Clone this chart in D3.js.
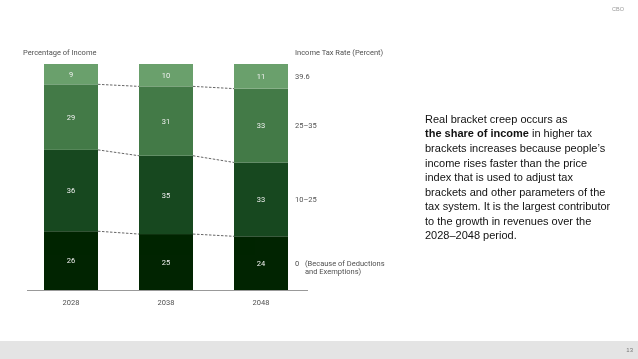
<!DOCTYPE html>
<html>
<head>
<meta charset="utf-8">
<script src="https://cdn.jsdelivr.net/npm/d3@7"></script>
<style>
  html, body { margin: 0; padding: 0; background: #fff; }
  svg { display: block; will-change: transform; opacity: 0.999; }
</style>
</head>
<body>
<svg id="chart" width="638" height="359"></svg>
<script>
// ---- data ----
const years = ["2028", "2038", "2048"];
const brackets = ["0", "10–25", "25–35", "39.6"]; // bottom to top
const share0 = [26, 25, 24];
const share10to25 = [36, 35, 33];
const share25to35 = [29, 31, 33];
const share396 = [9, 10, 11];
const bracketLabels = ["0 ", "10–25", "25–35", "39.6"];
const noteLines = ["Real bracket creep occurs as",
  "<b>the share of income</b> in higher tax",
  "brackets increases because people’s",
  "income rises faster than the price",
  "index that is used to adjust tax",
  "brackets and other parameters of the",
  "tax system. It is the largest contributor",
  "to the growth in revenues over the",
  "2028–2048 period."];

const colors = ["#002400", "#17481f", "#437a47", "#6aa06c"];

const table = years.map((y, i) => ({
  year: y,
  "0": share0[i], "10–25": share10to25[i], "25–35": share25to35[i], "39.6": share396[i]
}));

const svg = d3.select("#chart");
const chartFont = "Roboto, 'DejaVu Sans', sans-serif";
const fs = "7.5px";
const labelColor = "#505050";

const x = d3.scaleBand().domain(years).range([44, 288]).paddingInner(0.4316).paddingOuter(0);
const y = d3.scaleLinear().domain([0, 1]).range([290, 64]);

const stack = d3.stack().keys(brackets).offset(d3.stackOffsetExpand);
const series = stack(table);

// bars
const g = svg.append("g");
series.forEach((s, k) => {
  g.selectAll(null).data(s).enter().append("rect")
    .attr("x", d => x(d.data.year))
    .attr("width", x.bandwidth())
    .attr("y", d => y(d[1]))
    .attr("height", d => y(d[0]) - y(d[1]))
    .attr("fill", colors[k]);
  g.selectAll(null).data(s).enter().append("text")
    .attr("x", d => x(d.data.year) + x.bandwidth() / 2)
    .attr("y", d => (y(d[0]) + y(d[1])) / 2)
    .attr("dy", "0.35em")
    .attr("text-anchor", "middle")
    .attr("fill", "#f2f2f2")
    .style("font-family", chartFont)
    .style("font-size", fs)
    .text(d => d.data[s.key]);
});

// dashed connectors
series.slice(0, 3).forEach(s => {
  for (let i = 0; i < s.length - 1; i++) {
    svg.append("line")
      .attr("x1", x(s[i].data.year) + x.bandwidth())
      .attr("x2", x(s[i + 1].data.year))
      .attr("y1", y(s[i][1]))
      .attr("y2", y(s[i + 1][1]))
      .attr("stroke", "#666")
      .attr("stroke-width", 1)
      .attr("stroke-dasharray", "2.5,1.5");
  }
});

// x axis baseline & labels
svg.append("line").attr("x1", 27).attr("x2", 308).attr("y1", 290.5).attr("y2", 290.5)
  .attr("stroke", "#999").attr("stroke-width", 1);
svg.append("g").selectAll("text").data(years).enter().append("text")
  .attr("x", d => x(d) + x.bandwidth() / 2)
  .attr("y", 302)
  .attr("dy", "0.35em")
  .attr("text-anchor", "middle")
  .attr("fill", labelColor)
  .style("font-family", chartFont)
  .style("font-size", fs)
  .text(d => d);

// titles
svg.append("text").attr("x", 23).attr("y", 52).attr("dy", "0.35em")
  .attr("fill", labelColor).style("font-family", chartFont).style("font-size", fs)
  .text("Percentage of Income");
svg.append("text").attr("x", 295).attr("y", 52).attr("dy", "0.35em")
  .attr("fill", labelColor).style("font-family", chartFont).style("font-size", fs)
  .text("Income Tax Rate (Percent)");

// right bracket labels aligned to last bar
const last = years.length - 1;
series.forEach((s, k) => {
  const cy = (y(s[last][0]) + y(s[last][1])) / 2;
  svg.append("text").attr("x", 295).attr("y", cy).attr("dy", "0.35em")
    .attr("fill", labelColor).style("font-family", chartFont).style("font-size", fs)
    .text(bracketLabels[k]);
  if (k === 0) {
    svg.append("text").attr("x", 305).attr("y", cy).attr("dy", "0.35em")
      .attr("fill", labelColor).style("font-family", chartFont).style("font-size", fs)
      .text("(Because of Deductions");
    svg.append("text").attr("x", 305).attr("y", cy + 8.5).attr("dy", "0.35em")
      .attr("fill", labelColor).style("font-family", chartFont).style("font-size", fs)
      .text("and Exemptions)");
  }
});

// note text
const note = svg.append("text").attr("x", 425)
  .style("font-family", "'Liberation Sans', Arial, sans-serif")
  .style("font-size", "11px").attr("fill", "#111");
noteLines.forEach((line, i) => {
  const t = note.append("tspan").attr("x", 425).attr("y", 119 + i * 14.55).attr("dy", "0.35em");
  if (line.startsWith("<b>")) {
    const m = line.match(/<b>(.*)<\/b>(.*)/);
    t.append("tspan").style("font-weight", "bold").text(m[1]);
    t.append("tspan").text(m[2]);
  } else {
    t.text(line);
  }
});

// CBO mark
svg.append("text").attr("x", 624).attr("y", 9).attr("dy", "0.35em").attr("text-anchor", "end")
  .style("font-family", "'Liberation Sans', Arial, sans-serif").style("font-size", "5.5px")
  .attr("fill", "#999").text("CBO");

// footer band
svg.append("rect").attr("x", 0).attr("y", 341).attr("width", 638).attr("height", 18).attr("fill", "#e4e4e4");
svg.append("text").attr("x", 633).attr("y", 350).attr("dy", "0.35em").attr("text-anchor", "end")
  .style("font-family", "'Liberation Sans', Arial, sans-serif").style("font-size", "6px")
  .attr("fill", "#777").text("13");
</script>
</body>
</html>
